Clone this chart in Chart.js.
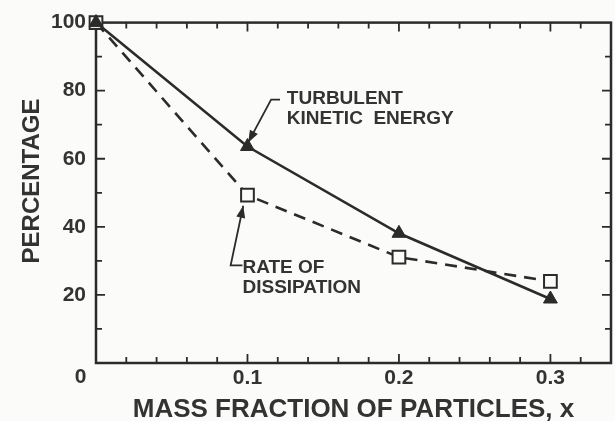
<!DOCTYPE html>
<html>
<head>
<meta charset="utf-8">
<script src="https://cdn.jsdelivr.net/npm/chart.js@4.4.1/dist/chart.umd.min.js"></script>
<style>
html, body { margin: 0; padding: 0; overflow: hidden; background: #fbfbfa; }
</style>
</head>
<body>
<canvas id="chart" width="622" height="421"></canvas>
<script>
// values
const massFraction = [0, 0.1, 0.2, 0.3];
const kineticEnergy = [100, 63.6, 38.1, 18.8];
const dissipationRate = [100, 49.3, 31.1, 24.0];
const xTickLabels = [0.1, 0.2, 0.3];
const yTickLabels = [20, 40, 60, 80, 100];

const INK = '#2b2b2b';
const FONT = '"Liberation Sans", Arial, sans-serif';

function toPoints(ys) {
    return massFraction.map((x, i) => ({x: x, y: ys[i]}));
}

// frame, inward ticks, labels and leader arrows
const paperPlugin = {
    id: 'paper',
    beforeDraw(chart) {
        const ctx = chart.ctx;
        ctx.save();
        ctx.fillStyle = '#fbfbfa';
        ctx.fillRect(0, 0, chart.width, chart.height);
        ctx.restore();
    },
    beforeDatasetsDraw(chart) {
        const {ctx, chartArea: a, scales: {x, y}} = chart;
        ctx.save();
        ctx.strokeStyle = INK;
        ctx.lineWidth = 2.5;
        ctx.strokeRect(a.left, a.top, a.right - a.left, a.bottom - a.top);
        ctx.lineWidth = 1.8;
        ctx.beginPath();
        for (let i = 1; i <= 16; i++) {
            const v = i / 50;
            const px = x.getPixelForValue(v);
            const len = (i % 5 === 0) ? 9 : 6;
            ctx.moveTo(px, a.bottom); ctx.lineTo(px, a.bottom - len);
            ctx.moveTo(px, a.top); ctx.lineTo(px, a.top + len);
        }
        for (let v = 10; v < 100; v += 10) {
            const py = y.getPixelForValue(v);
            const len = (v % 20 === 0) ? 9 : 6;
            ctx.moveTo(a.left, py); ctx.lineTo(a.left + len, py);
            ctx.moveTo(a.right, py); ctx.lineTo(a.right - len, py);
        }
        ctx.stroke();

        // shared corner zero
        ctx.fillStyle = '#333';
        ctx.font = 'bold 21px ' + FONT;
        ctx.textAlign = 'center';
        ctx.textBaseline = 'middle';
        ctx.fillText('0', 80.5, 377);

        // y title
        ctx.font = 'bold 24px ' + FONT;
        ctx.translate(31, 181);
        ctx.rotate(-Math.PI / 2);
        ctx.fillText('PERCENTAGE', 0, 1);
        ctx.restore();
    },
    afterDatasetsDraw(chart) {
        const {ctx, scales: {x, y}} = chart;
        const P = (vx, vy) => [x.getPixelForValue(vx), y.getPixelForValue(vy)];
        ctx.save();
        ctx.strokeStyle = INK;
        ctx.fillStyle = INK;
        ctx.lineWidth = 1.8;

        function leader(pts) {
            const p = pts.map(q => P(q[0], q[1]));
            ctx.beginPath();
            ctx.moveTo(p[0][0], p[0][1]);
            for (let i = 1; i < p.length; i++) ctx.lineTo(p[i][0], p[i][1]);
            ctx.stroke();
            const [x1, y1] = p[p.length - 2];
            const [x2, y2] = p[p.length - 1];
            const ang = Math.atan2(y2 - y1, x2 - x1);
            ctx.beginPath();
            ctx.moveTo(x2, y2);
            ctx.lineTo(x2 - 12 * Math.cos(ang) + 4.5 * Math.sin(ang), y2 - 12 * Math.sin(ang) - 4.5 * Math.cos(ang));
            ctx.lineTo(x2 - 12 * Math.cos(ang) - 4.5 * Math.sin(ang), y2 - 12 * Math.sin(ang) + 4.5 * Math.cos(ang));
            ctx.closePath();
            ctx.fill();
        }
        leader([[0.1215, 77.4], [0.1156, 77.4], [0.1005, 64.8]]);
        leader([[0.0967, 28.7], [0.0889, 28.7], [0.0972, 46.2]]);

        ctx.fillStyle = '#333';
        ctx.font = 'bold 19px ' + FONT;
        ctx.textAlign = 'left';
        ctx.textBaseline = 'middle';
        let p = P(0.126, 77.7);
        ctx.fillText('TURBULENT', p[0], p[1]);
        p = P(0.126, 71.8);
        ctx.fillText('KINETIC  ENERGY', p[0], p[1]);
        p = P(0.0967, 27.9);
        ctx.fillText('RATE OF', p[0], p[1]);
        p = P(0.0967, 22.0);
        ctx.fillText('DISSIPATION', p[0], p[1]);
        ctx.restore();
    }
};

const ctx = document.getElementById('chart').getContext('2d');
const chart = new Chart(ctx, {
    type: 'line',
    plugins: [paperPlugin],
    data: {
        datasets: [
            {
                label: 'Turbulent kinetic energy',
                data: toPoints(kineticEnergy),
                borderColor: INK,
                borderWidth: 2.6,
                pointStyle: 'triangle',
                pointRadius: 8,
                pointBackgroundColor: INK,
                pointBorderColor: INK,
                pointBorderWidth: 1,
                tension: 0,
                clip: false
            },
            {
                label: 'Rate of dissipation',
                data: toPoints(dissipationRate),
                borderColor: INK,
                borderWidth: 2.6,
                borderDash: [12, 8],
                pointStyle: 'rect',
                pointRadius: 9,
                pointBackgroundColor: '#fbfbfa',
                pointBorderColor: INK,
                pointBorderWidth: 2,
                tension: 0,
                clip: false
            }
        ]
    },
    options: {
        responsive: false,
        animation: false,
        layout: {padding: {left: 0, top: 22, right: 5, bottom: 0}},
        plugins: {
            legend: {display: false},
            tooltip: {enabled: false}
        },
        scales: {
            x: {
                type: 'linear',
                min: 0,
                max: 0.34,
                afterFit: (s) => { s.height = 58; },
                grid: {display: false, drawTicks: false},
                border: {display: false},
                afterBuildTicks: (s) => { s.ticks = xTickLabels.map(v => ({value: v})); },
                ticks: {
                    padding: 3,
                    color: '#333',
                    autoSkip: false,
                    maxRotation: 0,
                    font: {family: FONT, size: 21, weight: 'bold'},
                    callback: (v) => v.toFixed(1)
                },
                title: {
                    display: true,
                    text: 'MASS FRACTION OF PARTICLES, x',
                    color: '#333',
                    padding: {top: 0, bottom: -2},
                    font: {family: FONT, size: 26, weight: 'bold', lineHeight: 1}
                }
            },
            y: {
                min: 0,
                max: 100,
                afterFit: (s) => { s.width = 96; },
                grid: {display: false, drawTicks: false},
                border: {display: false},
                afterBuildTicks: (s) => { s.ticks = yTickLabels.map(v => ({value: v})); },
                ticks: {
                    padding: 10,
                    color: '#333',
                    font: {family: FONT, size: 21, weight: 'bold'}
                }
            }
        }
    }
});
</script>
</body>
</html>
